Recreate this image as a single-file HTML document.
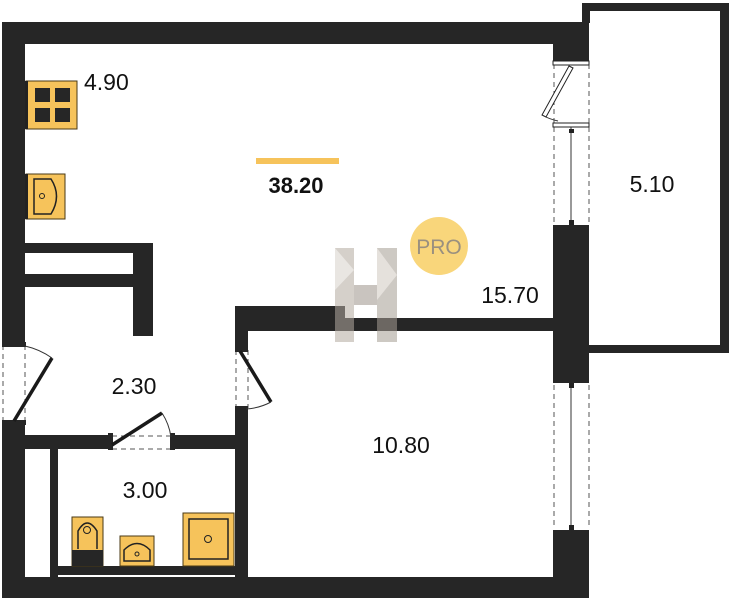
<!DOCTYPE html>
<html><head><meta charset="utf-8"><style>
html,body{margin:0;padding:0;background:#fff;width:731px;height:600px;overflow:hidden}
svg{display:block}
text{font-family:"Liberation Sans","DejaVu Sans",sans-serif;fill:#111}
</style></head><body>
<svg width="731" height="600" viewBox="0 0 731 600" xmlns="http://www.w3.org/2000/svg">
<g fill="#262626">
<!-- top wall -->
<rect x="2" y="22" width="587" height="22"/>
<!-- left wall upper -->
<rect x="2" y="22" width="23" height="321"/>
<!-- left wall lower -->
<rect x="2" y="423" width="23" height="175"/>
<!-- right wall segments -->
<rect x="553" y="22" width="36" height="40"/>
<rect x="553" y="225" width="36" height="158"/>
<rect x="553" y="530" width="36" height="68"/>
<!-- bottom wall -->
<rect x="2" y="577" width="587" height="21"/>
<!-- balcony -->
<rect x="582" y="3" width="147" height="8"/>
<rect x="720" y="3" width="9" height="349"/>
<rect x="589" y="345" width="140" height="8"/>
<rect x="582" y="3" width="8" height="20"/>
<!-- left partition box -->
<rect x="25" y="243" width="128" height="10"/>
<rect x="146" y="243" width="7" height="31"/>
<rect x="25" y="274" width="128" height="13"/>
<rect x="133" y="243" width="20" height="93"/>
<!-- middle walls -->
<rect x="235" y="306" width="110" height="25"/>
<rect x="344" y="318" width="210" height="13"/>
<rect x="235" y="306" width="13" height="42"/>
<rect x="235" y="410" width="13" height="168"/>
<!-- bath top wall -->
<rect x="25" y="435" width="85" height="14"/>
<rect x="173" y="435" width="63" height="14"/>
<!-- bath inner left -->
<rect x="50" y="449" width="8" height="129"/>
<rect x="58" y="566" width="177" height="9"/>
</g>
<!-- left door -->
<g stroke="#555" stroke-width="1" stroke-dasharray="5,4" fill="none">
<line x1="3" y1="345" x2="3" y2="421"/><line x1="25" y1="345" x2="25" y2="421"/>
<line x1="236" y1="350" x2="236" y2="408"/><line x1="248" y1="350" x2="248" y2="408"/>
<line x1="112" y1="436" x2="171" y2="436"/><line x1="112" y1="449" x2="171" y2="449"/>
<line x1="554" y1="64" x2="554" y2="223"/><line x1="589" y1="64" x2="589" y2="223"/>
<line x1="554" y1="385" x2="554" y2="528"/><line x1="589" y1="385" x2="589" y2="528"/>
</g>
<g fill="#262626">
<rect x="2" y="342" width="24" height="5"/><rect x="2" y="420" width="24" height="5"/>
<rect x="235" y="347" width="13" height="5"/><rect x="235" y="406" width="13" height="5"/>
<rect x="108" y="433" width="5" height="17"/><rect x="170" y="433" width="5" height="17"/>
</g>
<line x1="14" y1="421" x2="52" y2="358" stroke="#1a1a1a" stroke-width="3.5"/>
<path d="M25 346 A75 75 0 0 1 52 358" stroke="#333" fill="none"/>
<line x1="240" y1="351" x2="271" y2="402" stroke="#1a1a1a" stroke-width="3.5"/>
<path d="M271 402 A60 60 0 0 1 246 409" stroke="#333" fill="none"/>
<line x1="112" y1="445" x2="162" y2="413" stroke="#1a1a1a" stroke-width="3.5"/>
<path d="M162 413 A60 60 0 0 1 171 437" stroke="#333" fill="none"/>
<!-- right windows -->
<g stroke="#222" fill="#fff" stroke-width="1">
<rect x="553" y="61" width="36" height="4"/>
<rect x="553" y="123" width="36" height="4"/>
</g>
<line x1="571" y1="127" x2="571" y2="225" stroke="#333"/>
<line x1="571" y1="386" x2="571" y2="530" stroke="#333"/>
<rect x="569" y="129" width="5" height="4" fill="#222"/>
<rect x="569" y="220" width="5" height="5" fill="#222"/>
<rect x="569" y="383" width="5" height="5" fill="#222"/>
<rect x="569" y="525" width="5" height="5" fill="#222"/>
<polygon points="569,66 573,68 546,117 542,115" fill="#fff" stroke="#222"/>
<path d="M542 115 A55 55 0 0 0 558 121" fill="none" stroke="#333"/>
<!-- stove -->
<rect x="26" y="81" width="51" height="48" fill="#f6c35b" stroke="#4a3a14"/>
<rect x="25" y="81" width="3" height="48" fill="#222"/>
<g fill="#262626"><rect x="35" y="88" width="15" height="14"/><rect x="55" y="88" width="15" height="14"/><rect x="35" y="108" width="15" height="14"/><rect x="55" y="108" width="15" height="14"/></g>
<!-- kitchen sink -->
<rect x="26" y="174" width="39" height="45" fill="#f6c35b" stroke="#4a3a14"/>
<rect x="25" y="174" width="3" height="45" fill="#222"/>
<path d="M34 179 H51 Q62 196 51 214 H34 Z" fill="none" stroke="#222" stroke-width="1.5"/>
<circle cx="42" cy="196" r="2.5" fill="none" stroke="#222"/>
<!-- toilet -->
<rect x="72" y="517" width="31" height="49" fill="#f6c35b" stroke="#4a3a14"/>
<rect x="72" y="550" width="31" height="16" fill="#262626"/>
<path d="M78 549 V531 Q87 515 97 531 V549" fill="none" stroke="#222" stroke-width="1.5"/>
<circle cx="87" cy="530" r="3.5" fill="none" stroke="#222"/>
<!-- bath sink -->
<rect x="120" y="536" width="34" height="30" fill="#f6c35b" stroke="#4a3a14"/>
<path d="M124 561 V550 Q137 537 150 550 V561 Z" fill="none" stroke="#222" stroke-width="1.5"/>
<circle cx="137" cy="554" r="2" fill="none" stroke="#222"/>
<!-- shower -->
<rect x="183" y="513" width="51" height="53" fill="#f6c35b" stroke="#4a3a14"/>
<rect x="189" y="519" width="39" height="40" fill="none" stroke="#222" stroke-width="1.5"/>
<circle cx="208" cy="539" r="3.5" fill="none" stroke="#222"/>
<!-- H watermark -->
<g opacity="0.55">
<rect x="335" y="248" width="19" height="94" fill="#b3aaa0"/>
<rect x="377" y="248" width="20" height="94" fill="#a69d93"/>
<rect x="354" y="285" width="23" height="20" fill="#9e958b"/>
<polygon points="335,248 354,270 335,290" fill="#d8d2cb"/>
<polygon points="377,248 397,275 377,300" fill="#d0c9c1"/>
</g>
<!-- PRO -->
<circle cx="439" cy="246" r="29" fill="#f9d67b"/>
<text x="439" y="254" font-size="21" text-anchor="middle" style="fill:#9a907f">PRO</text>
<!-- labels -->
<rect x="256" y="158" width="83" height="6" fill="#f6c35b"/>
<text x="296" y="193" font-size="22" font-weight="bold" text-anchor="middle">38.20</text>
<text x="84" y="90" font-size="23">4.90</text>
<text x="652" y="192" font-size="23" text-anchor="middle">5.10</text>
<text x="510" y="303" font-size="23" text-anchor="middle">15.70</text>
<text x="134" y="394" font-size="23" text-anchor="middle">2.30</text>
<text x="401" y="453" font-size="23" text-anchor="middle">10.80</text>
<text x="145" y="498" font-size="23" text-anchor="middle">3.00</text>
</svg>
</body></html>
